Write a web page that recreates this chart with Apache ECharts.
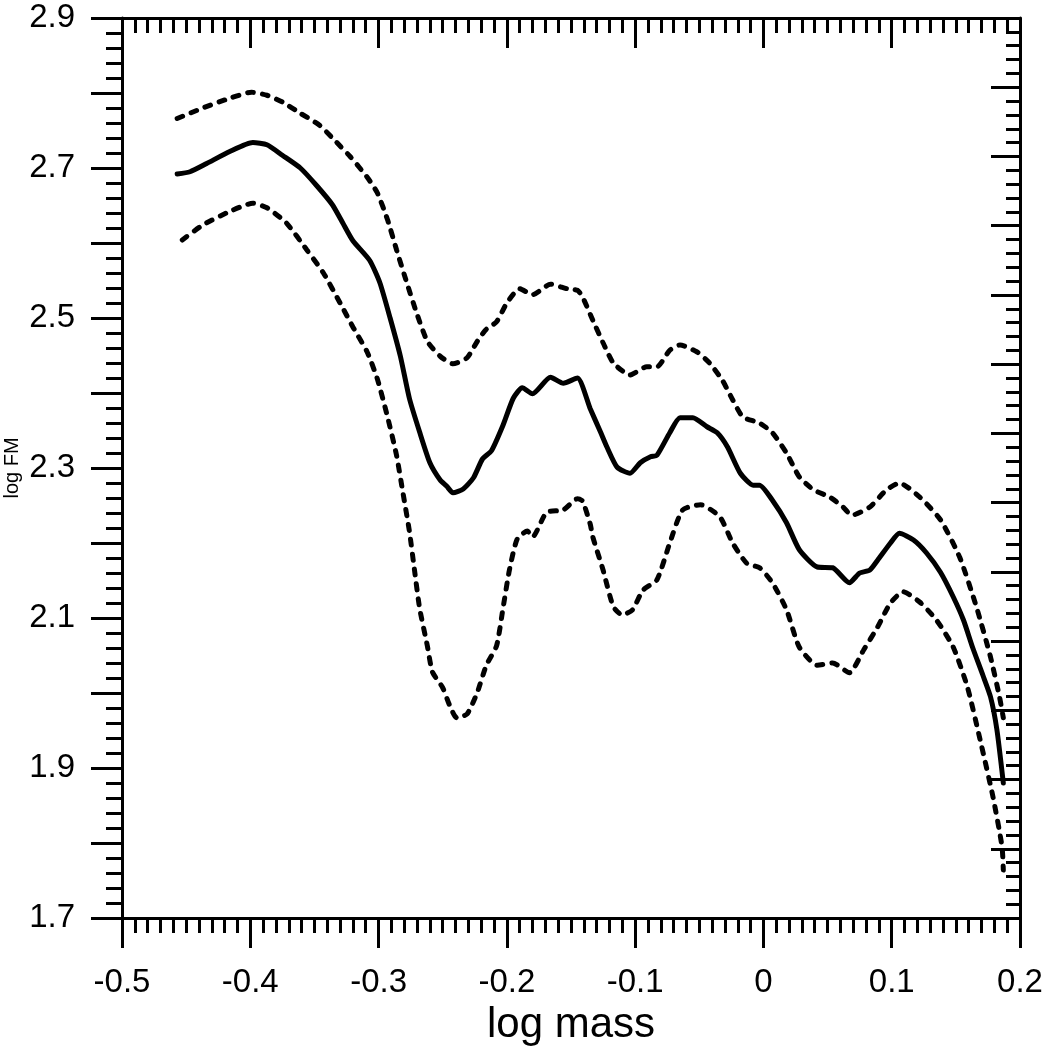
<!DOCTYPE html>
<html>
<head>
<meta charset="utf-8">
<script src="https://cdn.jsdelivr.net/npm/echarts@6/dist/echarts.min.js"></script>
<style>
  html, body { margin: 0; padding: 0; background: #fff; }
  #main { width: 1045px; height: 1049px; }
</style>
</head>
<body>
<div id="main"></div>
<script>
// 中间曲线 (实线)
var meanX = [-0.457, -0.447, -0.434, -0.416, -0.398, -0.387, -0.375, -0.361, -0.348, -0.336,
             -0.328, -0.320, -0.307, -0.299, -0.291, -0.283, -0.276, -0.268, -0.260, -0.252,
             -0.247, -0.242, -0.234, -0.226, -0.219, -0.212, -0.203, -0.195, -0.188, -0.180,
             -0.166, -0.156, -0.145, -0.135, -0.127, -0.122, -0.114, -0.104, -0.096, -0.088,
             -0.083, -0.073, -0.065, -0.055, -0.044, -0.036, -0.028, -0.018, -0.008, -0.003,
              0.007,  0.018,  0.028,  0.042,  0.054,  0.067,  0.075,  0.083,  0.089,  0.099,
              0.106,  0.117,  0.127,  0.138,  0.148,  0.156,  0.163,  0.171,  0.177,  0.182,
              0.187];
var meanY = [2.692, 2.695, 2.706, 2.722, 2.734, 2.731, 2.717, 2.700, 2.676, 2.651,
             2.627, 2.603, 2.577, 2.547, 2.500, 2.449, 2.393, 2.348, 2.307, 2.284,
             2.276, 2.267, 2.272, 2.287, 2.312, 2.323, 2.357, 2.393, 2.407, 2.399,
             2.421, 2.413, 2.420, 2.379, 2.348, 2.328, 2.301, 2.293, 2.307, 2.315,
             2.317, 2.347, 2.367, 2.367, 2.355, 2.347, 2.328, 2.293, 2.277, 2.277,
             2.257, 2.227, 2.191, 2.168, 2.167, 2.147, 2.160, 2.164, 2.177, 2.200,
             2.213, 2.204, 2.187, 2.161, 2.128, 2.097, 2.061, 2.024, 1.995, 1.951,
             1.880];

// 上边界 (虚线)
var upperX = [-0.457, -0.437, -0.416, -0.399, -0.387, -0.375, -0.361, -0.346, -0.336, -0.322,
              -0.309, -0.301, -0.293, -0.286, -0.278, -0.270, -0.262, -0.252, -0.242, -0.231,
              -0.223, -0.216, -0.208, -0.200, -0.190, -0.180, -0.166, -0.153, -0.145, -0.141,
              -0.133, -0.125, -0.117, -0.104, -0.091, -0.083, -0.073, -0.065, -0.052, -0.042,
              -0.032, -0.024, -0.016, -0.003,  0.007,  0.018,  0.028,  0.039,  0.052,  0.062,
               0.069,  0.083,  0.096,  0.106,  0.122,  0.138,  0.153,  0.166,  0.177,  0.184,
               0.187];
var upperY = [2.766, 2.780, 2.793, 2.801, 2.797, 2.788, 2.773, 2.757, 2.740, 2.715,
              2.688, 2.667, 2.631, 2.591, 2.547, 2.505, 2.469, 2.449, 2.439, 2.447,
              2.469, 2.485, 2.495, 2.520, 2.539, 2.531, 2.545, 2.539, 2.537, 2.528,
              2.497, 2.467, 2.440, 2.424, 2.435, 2.435, 2.457, 2.464, 2.455, 2.440,
              2.417, 2.391, 2.368, 2.360, 2.347, 2.320, 2.288, 2.271, 2.261, 2.248,
              2.237, 2.248, 2.271, 2.280, 2.261, 2.231, 2.181, 2.115, 2.048, 1.995,
              1.967];

// 下边界 (虚线)
var lowerX = [-0.453, -0.437, -0.416, -0.398, -0.387, -0.372, -0.356, -0.343, -0.330, -0.320,
              -0.309, -0.301, -0.293, -0.286, -0.281, -0.276, -0.272, -0.268, -0.262, -0.258,
              -0.250, -0.244, -0.239, -0.231, -0.223, -0.216, -0.208, -0.203, -0.198, -0.192,
              -0.184, -0.180, -0.169, -0.156, -0.145, -0.141, -0.135, -0.133, -0.125, -0.117,
              -0.110, -0.102, -0.094, -0.083, -0.073, -0.063, -0.049, -0.034, -0.024, -0.013,
              -0.003,  0.007,  0.018,  0.028,  0.042,  0.054,  0.067,  0.078,  0.089,  0.099,
               0.109,  0.122,  0.135,  0.148,  0.159,  0.169,  0.179,  0.186,  0.187];
var lowerY = [2.604, 2.624, 2.642, 2.653, 2.647, 2.627, 2.591, 2.560, 2.520, 2.488,
              2.455, 2.419, 2.368, 2.317, 2.267, 2.216, 2.164, 2.113, 2.063, 2.028,
              2.007, 1.981, 1.967, 1.972, 2.001, 2.037, 2.063, 2.113, 2.164, 2.205,
              2.216, 2.208, 2.241, 2.244, 2.259, 2.256, 2.225, 2.208, 2.164, 2.115,
              2.104, 2.111, 2.137, 2.151, 2.200, 2.244, 2.251, 2.235, 2.200, 2.173,
              2.167, 2.147, 2.111, 2.061, 2.037, 2.040, 2.027, 2.057, 2.088, 2.120,
              2.135, 2.121, 2.097, 2.061, 2.008, 1.937, 1.861, 1.795, 1.764];

function zip(xs, ys) {
   return xs.map(function (x, i) { return [x, ys[i]]; });
}

var font = 'Liberation Sans, Arial, sans-serif';
var black = '#000';

var chart = echarts.init(document.getElementById('main'), null, { renderer: 'canvas' });

var dashStyle = { color: black, width: 5, type: [6, 9], cap: 'round' };

var option = {
   animation: false,
   backgroundColor: '#fff',
   grid: { left: 122, right: 25, top: 18, bottom: 131, containLabel: false, outerBoundsMode: 'none' },
   xAxis: [{
      type: 'value',
      position: 'bottom',
      min: -0.5, max: 0.2, interval: 0.1,
      name: 'log mass',
      nameLocation: 'middle',
      nameGap: 86,
      nameMoveOverlap: false,
      nameTextStyle: { fontFamily: font, fontSize: 42, color: black },
      axisLine: { show: true, onZero: false, lineStyle: { color: black, width: 3 } },
      axisTick: { show: true, inside: false, length: 30, lineStyle: { color: black, width: 3 } },
      minorTick: { show: true, splitNumber: 10, length: 15, lineStyle: { color: black, width: 3 } },
      axisLabel: {
         margin: 48, fontFamily: font, fontSize: 33, color: black,
         formatter: function (v) { return String(Math.round(v * 10) / 10); }
      },
      splitLine: { show: false }
   }, {
      type: 'value',
      position: 'top',
      min: -0.5, max: 0.2, interval: 0.1,
      axisLine: { show: true, onZero: false, lineStyle: { color: black, width: 3 } },
      axisTick: { show: true, inside: true, length: 30, lineStyle: { color: black, width: 3 } },
      minorTick: { show: true, splitNumber: 10, length: 15, lineStyle: { color: black, width: 3 } },
      axisLabel: { show: false },
      splitLine: { show: false }
   }],
   yAxis: [{
      type: 'value',
      position: 'left',
      min: 1.7, max: 2.9, interval: 0.1,
      name: 'log FM',
      nameLocation: 'middle',
      nameRotate: 90,
      nameGap: 100,
      nameMoveOverlap: false,
      nameTextStyle: { fontFamily: font, fontSize: 20, color: black },
      axisLine: { show: true, onZero: false, lineStyle: { color: black, width: 3 } },
      axisTick: { show: true, inside: false, length: 31, lineStyle: { color: black, width: 3 } },
      minorTick: { show: true, splitNumber: 5, length: 16, lineStyle: { color: black, width: 3 } },
      axisLabel: {
         margin: 47, fontFamily: font, fontSize: 33, color: black,
         formatter: function (v) {
            var k = Math.round((v - 1.7) * 10);
            return k % 2 === 0 ? v.toFixed(1) : '';
         }
      },
      splitLine: { show: false }
   }, {
      // 右侧轴: 13 个主刻度
      type: 'value',
      position: 'right',
      min: 0, max: 13, interval: 1,
      axisLine: { show: true, onZero: false, lineStyle: { color: black, width: 3 } },
      axisTick: { show: true, inside: true, length: 29, lineStyle: { color: black, width: 3 } },
      minorTick: { show: true, splitNumber: 5, length: 14, lineStyle: { color: black, width: 3 } },
      axisLabel: { show: false },
      splitLine: { show: false }
   }],
   series: [{
      name: 'upper',
      type: 'line',
      xAxisIndex: 0, yAxisIndex: 0,
      data: zip(upperX, upperY),
      showSymbol: false,
      smooth: 0.2,
      lineStyle: dashStyle
   }, {
      name: 'mean',
      type: 'line',
      xAxisIndex: 0, yAxisIndex: 0,
      data: zip(meanX, meanY),
      showSymbol: false,
      smooth: 0.2,
      lineStyle: { color: black, width: 5, cap: 'round' }
   }, {
      name: 'lower',
      type: 'line',
      xAxisIndex: 0, yAxisIndex: 0,
      data: zip(lowerX, lowerY),
      showSymbol: false,
      smooth: 0.2,
      lineStyle: dashStyle
   }]
};

chart.setOption(option);
</script>
</body>
</html>
